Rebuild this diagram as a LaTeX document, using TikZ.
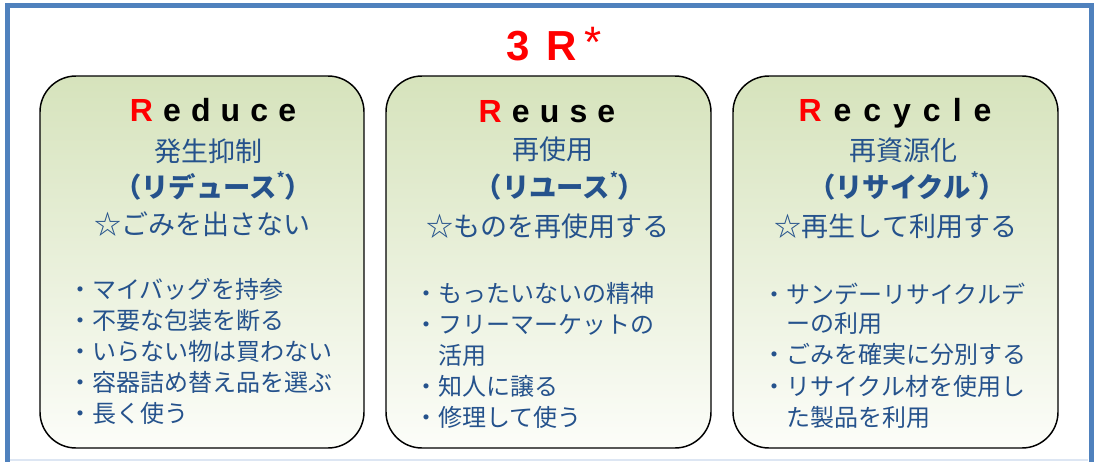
\documentclass[tikz,border=0pt]{standalone}
\usepackage{fontspec}
\setmainfont{Liberation Sans}
\newfontfamily\jp{Noto Sans CJK JP}
\definecolor{frameblue}{RGB}{79,129,189}
\definecolor{framelight}{RGB}{221,230,243}
\definecolor{txtblue}{RGB}{37,82,140}
\definecolor{boxtop}{RGB}{214,227,188}
\definecolor{boxbot}{RGB}{252,253,249}
\definecolor{titlered}{RGB}{255,0,0}
\newcommand\mygap{\hspace{7.6pt}}
\newcommand\mygapb{\hspace{9pt}}
\newcommand\supast{\raisebox{0.5em}{\fontsize{11}{11}\selectfont *}}
\begin{document}
\begin{tikzpicture}[x=0.75pt,y=-0.75pt,
  rbox/.style={draw=black,line width=1.1pt,rounded corners=27pt,top color=boxtop,bottom color=boxbot},
  rword/.style={font=\fontsize{24}{28}\selectfont\bfseries,anchor=base,inner sep=0pt},
  jpsub/.style={font=\jp\fontsize{20.25}{24}\selectfont,text=txtblue,anchor=base,inner sep=0pt},
  jpbold/.style={font=\jp\bfseries\fontsize{20.5}{24}\selectfont,text=txtblue,anchor=base,inner sep=0pt},
  item/.style={font=\jp\fontsize{18}{22}\selectfont,text=txtblue,anchor=base west,inner sep=0pt}]
\useasboundingbox (0,0) rectangle (1096,461);
\begin{scope}
\clip (0,0) rectangle (1096,461);
\draw[framelight,line width=1.5pt] (10,459.5) -- (1088,459.5);
\draw[frameblue,line width=3.75pt] (7.5,470) -- (7.5,5) -- (1091,5) -- (1091,470);
\end{scope}
% title
\node[font=\fontsize{31.5}{36}\selectfont\bfseries,text=titlered,anchor=base west,inner sep=0pt] (title) at (506,60) {3\hspace{13pt}R};
\node[font=\fontsize{33}{33}\selectfont,text=titlered,inner sep=0pt] (tast) at (593,42) {*};
% boxes
\path[rbox] (40,76) rectangle (364,448);
\path[rbox] (386,76) rectangle (711,448);
\path[rbox] (733,76) rectangle (1058,448);
% box 1
\node[rword] (r1) at (213,121) {\textcolor{titlered}{R}\mygap e\mygap d\mygap u\mygap c\mygap e};
\node[jpsub] (s1) at (208,161) {発生抑制};
\node[jpbold] (k1) at (213,197) {（リデュース\supast）};
\node[jpsub] (t1) at (202,234) {☆ごみを出さない};
\node[item] (a1) at (68,298) {・マイバッグを持参};
\node[item] (a2) at (68,329) {・不要な包装を断る};
\node[item] (a3) at (68,360) {・いらない物は買わない};
\node[item] (a4) at (68,391) {・容器詰め替え品を選ぶ};
\node[item] (a5) at (68,422) {・長く使う};
% box 2
\node[rword] (r2) at (547,122) {\textcolor{titlered}{R}\mygap e\mygap u\mygap s\mygap e};
\node[jpsub] (s2) at (553,159) {再使用};
\node[jpbold] (k2) at (560,197) {（リユース\supast）};
\node[jpsub] (t2) at (548,236) {☆ものを再使用する};
\node[item] (b1) at (414,302) {・もったいないの精神};
\node[item] (b2) at (414,333) {・フリーマーケットの};
\node[item] (b3) at (438,364) {活用};
\node[item] (b4) at (414,395) {・知人に譲る};
\node[item] (b5) at (414,426) {・修理して使う};
% box 3
\node[rword] (r3) at (895,121) {\textcolor{titlered}{R}\mygapb e\mygapb c\mygapb y\mygapb c\mygapb l\mygapb e};
\node[jpsub] (s3) at (903,160) {再資源化};
\node[jpbold] (k3) at (907,197) {（リサイクル\supast）};
\node[jpsub] (t3) at (896,236) {☆再生して利用する};
\node[item] (c1) at (762,303) {・サンデーリサイクルデ};
\node[item] (c2) at (786,332) {ーの利用};
\node[item] (c3) at (762,363) {・ごみを確実に分別する};
\node[item] (c4) at (762,395) {・リサイクル材を使用し};
\node[item] (c5) at (786,426) {た製品を利用};
\end{tikzpicture}
\end{document}
